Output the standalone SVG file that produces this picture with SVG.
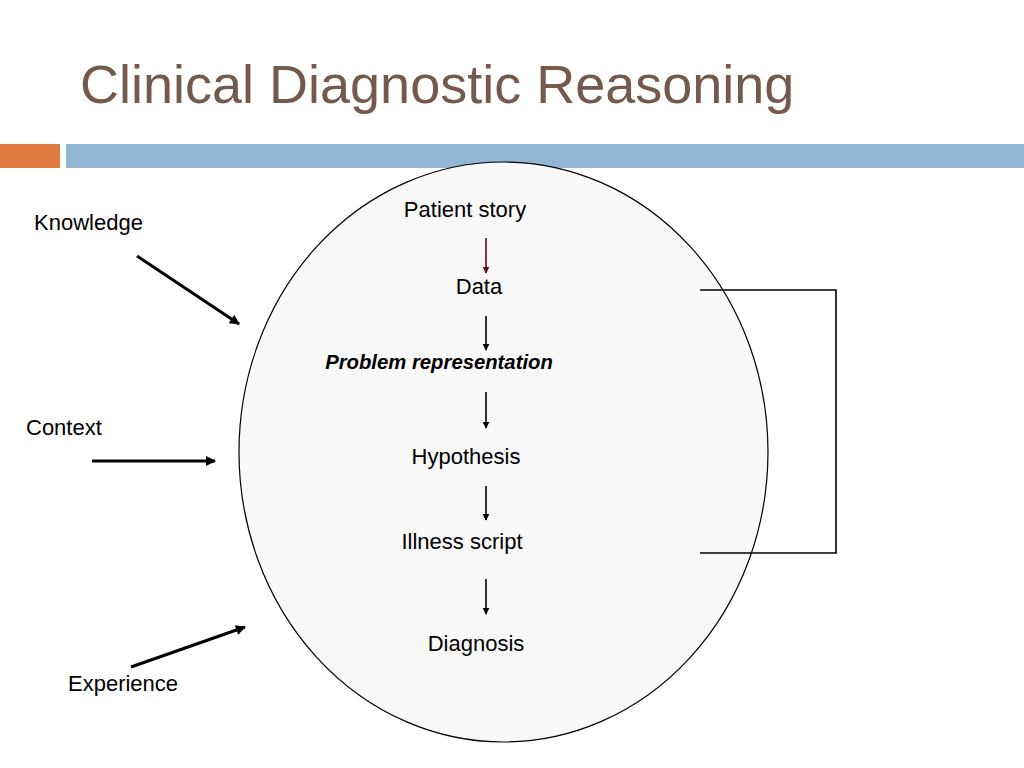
<svg xmlns="http://www.w3.org/2000/svg" width="1024" height="768" viewBox="0 0 1024 768">
<defs>
<style>
.t{font-family:"Liberation Sans",Arial,sans-serif;font-size:22px;fill:#000}
.c{text-anchor:middle}
.b{font-size:20.3px;font-weight:bold;font-style:italic}
.ln{stroke:#000;stroke-width:1.6;fill:none}
.ex{stroke:#000;stroke-width:3;fill:none}
</style>
<marker id="ah" viewBox="0 0 10 10" refX="9" refY="5" markerWidth="7" markerHeight="7" markerUnits="userSpaceOnUse" orient="auto"><path d="M0,0 L10,5 L0,10 z" fill="#000"/></marker>
<marker id="ahr" viewBox="0 0 10 10" refX="9" refY="5" markerWidth="7" markerHeight="7" markerUnits="userSpaceOnUse" orient="auto"><path d="M0,0 L10,5 L0,10 z" fill="#5a1010"/></marker>
<marker id="ahb" viewBox="0 0 10 10" refX="9" refY="5" markerWidth="11" markerHeight="10" markerUnits="userSpaceOnUse" orient="auto"><path d="M0,0 L10,5 L0,10 z" fill="#000"/></marker>
</defs>
<rect width="1024" height="768" fill="#fff"/>
<text x="80" y="103" font-family="'Liberation Sans',Arial,sans-serif" font-size="54" fill="#76594d">Clinical Diagnostic Reasoning</text>
<rect x="0" y="144" width="60" height="24" fill="#e07b3f"/>
<rect x="66" y="144" width="958" height="24" fill="#93b6d4"/>
<g id="circle"><ellipse cx="503.5" cy="452" rx="264.5" ry="290" fill="#f8f8f8" stroke="#000" stroke-width="1.2"/></g>
<g id="connectors">
<line x1="486" y1="238" x2="486" y2="273" stroke="#5a1010" stroke-width="1.6" marker-end="url(#ahr)"/>
<line class="ln" x1="486" y1="316" x2="486" y2="350" marker-end="url(#ah)"/>
<line class="ln" x1="486" y1="392" x2="486" y2="428" marker-end="url(#ah)"/>
<line class="ln" x1="486" y1="486" x2="486" y2="520" marker-end="url(#ah)"/>
<line class="ln" x1="486" y1="579" x2="486" y2="614" marker-end="url(#ah)"/>
<line class="ex" x1="137" y1="256" x2="239" y2="324" marker-end="url(#ahb)"/>
<line class="ex" x1="92" y1="461" x2="215" y2="461" marker-end="url(#ahb)"/>
<line class="ex" x1="131" y1="667" x2="245" y2="627" marker-end="url(#ahb)"/>
<polyline class="ln" points="700,290 836,290 836,553 700,553"/>
</g>
<g id="patient-story"><text class="t c" x="465" y="217">Patient story</text></g>
<g id="data"><text class="t c" x="479" y="294">Data</text></g>
<g id="problem-representation"><text class="t c b" x="439" y="369">Problem representation</text></g>
<g id="hypothesis"><text class="t c" x="466" y="464">Hypothesis</text></g>
<g id="illness-script"><text class="t c" x="462" y="549">Illness script</text></g>
<g id="diagnosis"><text class="t c" x="476" y="651">Diagnosis</text></g>
<g id="knowledge"><text class="t" x="34" y="230">Knowledge</text></g>
<g id="context"><text class="t" x="26" y="435">Context</text></g>
<g id="experience"><text class="t" x="68" y="691">Experience</text></g>
</svg>
